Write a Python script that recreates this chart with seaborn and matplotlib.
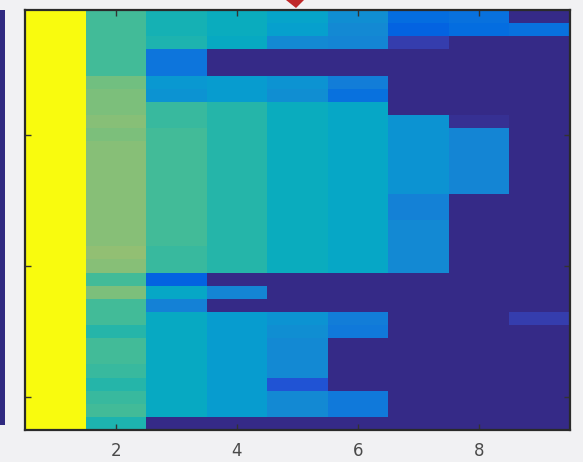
import numpy as np
import pandas as pd
import matplotlib
matplotlib.use("Agg")
import matplotlib.pyplot as plt
from matplotlib.colors import ListedColormap
from matplotlib.patches import Polygon, Rectangle
import seaborn as sns

# ---- data (32 rows x 9 columns, values on a 0..1 scale) ----
col1 = [1.0] * 32
col2 = [0.52, 0.53, 0.52, 0.53, 0.52,
        0.58, 0.60, 0.60, 0.61, 0.60, 0.61, 0.61, 0.62, 0.61, 0.62, 0.61, 0.62, 0.62, 0.63, 0.62,
        0.53, 0.60, 0.52, 0.53, 0.47, 0.52, 0.53, 0.50, 0.48, 0.50, 0.52, 0.46]
col3 = [0.45, 0.45, 0.46, 0.20, 0.20, 0.32, 0.31,
        0.50, 0.51, 0.52, 0.52, 0.52, 0.52, 0.52, 0.52, 0.52, 0.52, 0.52, 0.51, 0.51,
        0.13, 0.38, 0.24,
        0.40, 0.40, 0.40, 0.40, 0.40, 0.40, 0.40, 0.40, 0.0]
col4 = [0.41, 0.41, 0.40, 0.0, 0.0, 0.34, 0.33,
        0.47, 0.47, 0.47, 0.47, 0.47, 0.47, 0.47, 0.47, 0.47, 0.47, 0.47, 0.47, 0.47,
        0.0, 0.26, 0.0,
        0.33, 0.33, 0.33, 0.33, 0.33, 0.33, 0.33, 0.33, 0.0]
col5 = [0.36, 0.35, 0.28, 0.0, 0.0, 0.30, 0.29,
        0.42, 0.42, 0.42, 0.42, 0.42, 0.42, 0.42, 0.42, 0.42, 0.42, 0.42, 0.42, 0.42,
        0.0, 0.0, 0.0,
        0.30, 0.29, 0.27, 0.27, 0.27, 0.10, 0.27, 0.27, 0.0]
col6 = [0.29, 0.28, 0.26, 0.0, 0.0, 0.22, 0.18,
        0.39, 0.39, 0.39, 0.39, 0.39, 0.39, 0.39, 0.39, 0.39, 0.39, 0.39, 0.39, 0.39,
        0.0, 0.0, 0.0,
        0.22, 0.21, 0.0, 0.0, 0.0, 0.0, 0.21, 0.21, 0.0]
col7 = [0.16, 0.14, 0.06, 0.0, 0.0, 0.0, 0.0, 0.0,
        0.30, 0.30, 0.30, 0.30, 0.30, 0.30, 0.24, 0.24, 0.28, 0.28, 0.28, 0.28,
        0.0, 0.0, 0.0, 0.0, 0.0, 0.0, 0.0, 0.0, 0.0, 0.0, 0.0, 0.0]
col8 = [0.18, 0.17, 0.0, 0.0, 0.0, 0.0, 0.0, 0.0, 0.03,
        0.25, 0.25, 0.25, 0.25, 0.25,
        0.0, 0.0, 0.0, 0.0, 0.0, 0.0, 0.0, 0.0, 0.0, 0.0, 0.0, 0.0, 0.0, 0.0, 0.0, 0.0, 0.0, 0.0]
col9 = [0.0, 0.18] + [0.0] * 21 + [0.05] + [0.0] * 8

row_labels = list(range(1, 33))
col_labels = list(range(1, 10))
xtick_vals = [2, 4, 6, 8]
ytick_vals = [10, 20, 30]

# ---- MATLAB parula colormap (64 entries) ----
parula_data = [
    [0.2081, 0.1663, 0.5292], [0.2116, 0.1898, 0.5777], [0.2123, 0.2138, 0.6270], [0.2081, 0.2386, 0.6771],
    [0.1959, 0.2645, 0.7279], [0.1707, 0.2919, 0.7792], [0.1253, 0.3242, 0.8303], [0.0591, 0.3598, 0.8683],
    [0.0117, 0.3875, 0.8820], [0.0060, 0.4086, 0.8828], [0.0165, 0.4266, 0.8786], [0.0329, 0.4430, 0.8720],
    [0.0498, 0.4586, 0.8641], [0.0629, 0.4737, 0.8554], [0.0723, 0.4887, 0.8467], [0.0779, 0.5040, 0.8384],
    [0.0793, 0.5200, 0.8312], [0.0749, 0.5375, 0.8263], [0.0641, 0.5570, 0.8240], [0.0488, 0.5772, 0.8228],
    [0.0343, 0.5966, 0.8199], [0.0265, 0.6137, 0.8135], [0.0239, 0.6287, 0.8038], [0.0231, 0.6418, 0.7913],
    [0.0228, 0.6535, 0.7768], [0.0267, 0.6642, 0.7607], [0.0384, 0.6743, 0.7436], [0.0590, 0.6838, 0.7254],
    [0.0843, 0.6928, 0.7062], [0.1133, 0.7015, 0.6859], [0.1453, 0.7098, 0.6646], [0.1801, 0.7177, 0.6424],
    [0.2178, 0.7250, 0.6193], [0.2586, 0.7317, 0.5954], [0.3022, 0.7376, 0.5712], [0.3482, 0.7424, 0.5473],
    [0.3953, 0.7459, 0.5244], [0.4420, 0.7481, 0.5033], [0.4871, 0.7491, 0.4840], [0.5300, 0.7491, 0.4661],
    [0.5709, 0.7485, 0.4494], [0.6099, 0.7473, 0.4337], [0.6473, 0.7456, 0.4188], [0.6834, 0.7435, 0.4044],
    [0.7184, 0.7411, 0.3905], [0.7525, 0.7384, 0.3768], [0.7858, 0.7356, 0.3633], [0.8185, 0.7327, 0.3498],
    [0.8507, 0.7299, 0.3360], [0.8824, 0.7274, 0.3217], [0.9139, 0.7258, 0.3063], [0.9450, 0.7261, 0.2886],
    [0.9739, 0.7314, 0.2666], [0.9938, 0.7455, 0.2403], [0.9990, 0.7653, 0.2164], [0.9955, 0.7861, 0.1967],
    [0.9880, 0.8066, 0.1794], [0.9789, 0.8271, 0.1633], [0.9697, 0.8481, 0.1475], [0.9626, 0.8705, 0.1309],
    [0.9589, 0.8949, 0.1132], [0.9598, 0.9218, 0.0948], [0.9661, 0.9514, 0.0755], [0.9763, 0.9831, 0.0538],
]
parula = ListedColormap(parula_data, name="parula")

df = pd.DataFrame(
    np.column_stack([col1, col2, col3, col4, col5, col6, col7, col8, col9]),
    index=row_labels, columns=col_labels,
)

W, H = 583, 462
bg = "#f1f1f3"
fig = plt.figure(figsize=(W / 100, H / 100), dpi=100, facecolor=bg)
ax = fig.add_axes([25 / W, 1 - 430 / H, (570 - 25) / W, (430 - 10) / H])

sns.heatmap(df, cmap=parula, vmin=0, vmax=1, cbar=False, ax=ax,
            xticklabels=False, yticklabels=False, linewidths=0)

ax.set_xticks([v - 0.5 for v in xtick_vals])
ax.set_xticklabels([str(v) for v in xtick_vals])
ax.set_yticks([v - 0.5 for v in ytick_vals])
ax.set_yticklabels([])
ax.set_xlabel("")
ax.set_ylabel("")
ax.tick_params(direction="in", top=True, right=True, length=4, width=1,
               color="#333333", labelsize=12, labelcolor="#4a4a4a", pad=9)
for s in ax.spines.values():
    s.set_visible(True)
    s.set_color("#2a2a2a")
    s.set_linewidth(1.6)

# neighbouring-panel stripe at the far left and red arrow tip at the top
fig.patches.append(Rectangle((0, 1 - 425 / H), 5 / W, 415 / H,
                             transform=fig.transFigure, facecolor="#302a80", edgecolor="none"))
fig.patches.append(Polygon([[286 / W, 1.0], [304 / W, 1.0], [296 / W, 1 - 8 / H]],
                           closed=True, transform=fig.transFigure,
                           facecolor="#c0282a", edgecolor="none"))

fig.savefig("out.png", dpi=100, facecolor=bg)
